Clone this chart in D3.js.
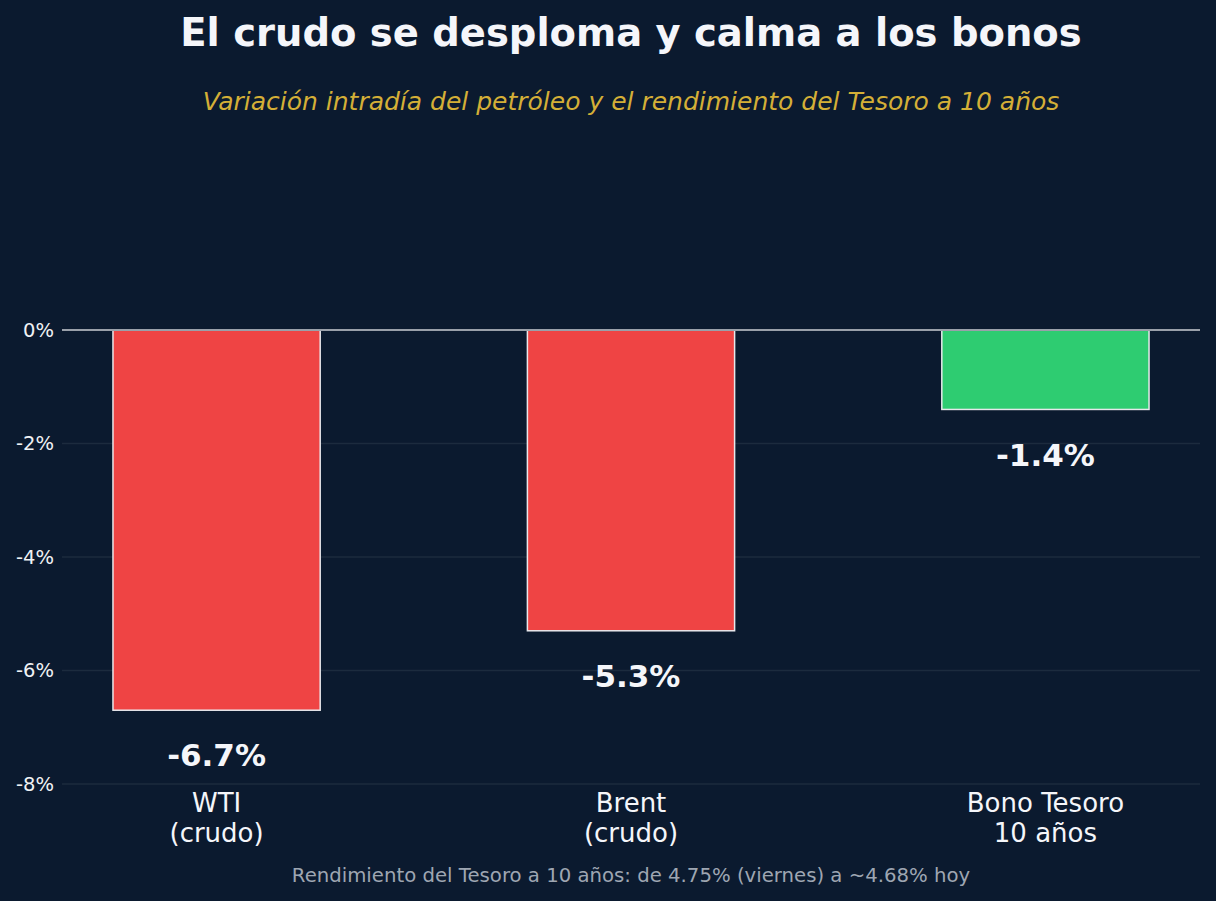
<!DOCTYPE html>
<html><head><meta charset="utf-8">
<script src="https://cdn.jsdelivr.net/npm/d3@7"></script>
<style>
html,body{margin:0;padding:0;background:#0b1a2f;overflow:hidden}
text{font-family:"DejaVu Sans",sans-serif}
</style></head>
<body><svg id="c" width="1216" height="901"></svg>
<script>
const categories = [["WTI","(crudo)"],["Brent","(crudo)"],["Bono Tesoro","10 años"]];
const values = [-6.7, -5.3, -1.4];
const valueLabels = ["-6.7%","-5.3%","-1.4%"];
const barColors = ["#ef4444","#ef4444","#2ecc71"];
const yTicks = [0,-2,-4,-6,-8];
const title = "El crudo se desploma y calma a los bonos";
const subtitle = "Variación intradía del petróleo y el rendimiento del Tesoro a 10 años";
const footer = "Rendimiento del Tesoro a 10 años: de 4.75% (viernes) a ~4.68% hoy";

const svg = d3.select("#c");
svg.append("rect").attr("width",1216).attr("height",901).attr("fill","#0b1a2f");

const x = d3.scaleBand().domain(d3.range(values.length)).range([62,1200]).paddingInner(0.5).paddingOuter(0.123);
const y = d3.scaleLinear().domain([0,-8]).range([330,784]);

// grid
svg.append("g").selectAll("line").data(yTicks.filter(d=>d!==0)).join("line")
  .attr("x1",62).attr("x2",1200).attr("y1",d=>y(d)).attr("y2",d=>y(d))
  .attr("stroke","#1c2b3e").attr("stroke-width",1.5);

// y axis
const ya = svg.append("g").attr("transform","translate(62,0)")
  .call(d3.axisLeft(y).tickValues(yTicks).tickFormat(d=>d+"%").tickSize(0).tickPadding(8));
ya.select(".domain").remove();
ya.selectAll("text").attr("fill","#f0f2f5").attr("font-size",19.5).style("font-family","DejaVu Sans");

// bars
svg.append("g").selectAll("rect").data(values).join("rect")
  .attr("x",(d,i)=>x(i)).attr("width",x.bandwidth())
  .attr("y",d=>y(Math.max(0,d))).attr("height",d=>Math.abs(y(d)-y(0)))
  .attr("fill",(d,i)=>barColors[i]).attr("stroke","#e8e8ec").attr("stroke-width",1.5);

// zero line
svg.append("line").attr("x1",62).attr("x2",1200).attr("y1",y(0)).attr("y2",y(0))
  .attr("stroke","#9aa0aa").attr("stroke-width",2);

// value labels
svg.append("g").selectAll("text").data(values).join("text")
  .attr("x",(d,i)=>x(i)+x.bandwidth()/2).attr("y",d=>y(d-0.8))
  .attr("dy","0.35em").attr("text-anchor","middle")
  .attr("fill","#f5f6fa").attr("font-size",31).attr("font-weight","bold")
  .text((d,i)=>valueLabels[i]);

// category labels
const cl = svg.append("g").selectAll("text").data(categories).join("text")
  .attr("x",(d,i)=>x(i)+x.bandwidth()/2).attr("y",812).attr("text-anchor","middle")
  .attr("fill","#f5f6fa").attr("font-size",26);
cl.selectAll("tspan").data(d=>d).join("tspan")
  .attr("x",function(){return this.parentNode.getAttribute("x");})
  .attr("dy",(d,i)=>i===0?0:29.5).text(d=>d);

svg.append("text").attr("x",631).attr("y",46).attr("text-anchor","middle")
  .attr("fill","#f5f6fa").attr("font-size",38.5).attr("font-weight","bold").text(title);
svg.append("text").attr("x",631).attr("y",110).attr("text-anchor","middle")
  .attr("fill","#d4af37").attr("font-size",25).attr("font-style","italic").text(subtitle);
svg.append("text").attr("x",631).attr("y",882).attr("text-anchor","middle")
  .attr("fill","#9ea6b2").attr("font-size",19.7).text(footer);
</script></body></html>
